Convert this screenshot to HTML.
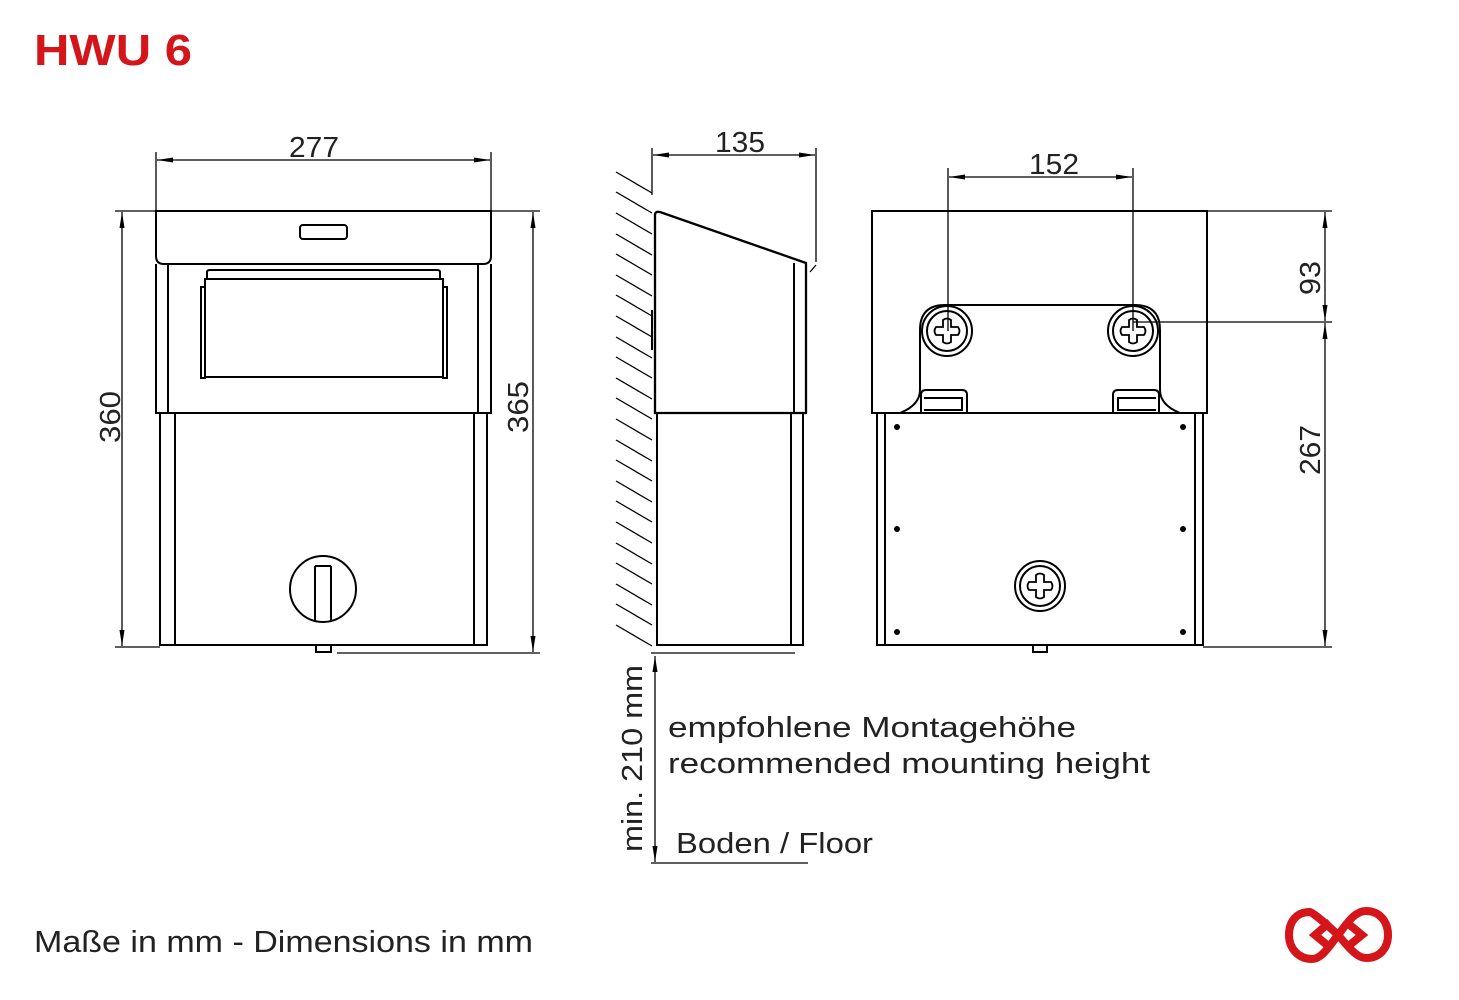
<!DOCTYPE html>
<html><head><style>
body{margin:0;background:#fff;}
svg{display:block;}
text{font-family:"Liberation Sans",sans-serif;fill:#222;}
</style></head><body>
<svg width="1459" height="1000" viewBox="0 0 1459 1000" xmlns="http://www.w3.org/2000/svg">
<defs>
<marker id="a" markerWidth="16" markerHeight="6" refX="16" refY="3" orient="auto-start-reverse" markerUnits="userSpaceOnUse"><path d="M0,0.5 L16,3 L0,5.5 z" fill="#000"/></marker>
</defs>
<text x="34" y="65" textLength="158" lengthAdjust="spacingAndGlyphs" style="font-size:44px;font-weight:bold;fill:#d4161b">HWU 6</text>

<g stroke="#000" fill="none" stroke-width="1.3">
<line x1="156" y1="152" x2="156" y2="211"/><line x1="491" y1="152" x2="491" y2="211"/>
<line x1="157" y1="160" x2="490" y2="160" marker-end="url(#a)" marker-start="url(#a)"/>
<line x1="115" y1="211" x2="156" y2="211"/><line x1="115" y1="647" x2="160" y2="647"/>
<line x1="122" y1="212" x2="122" y2="646" marker-end="url(#a)" marker-start="url(#a)"/>
<line x1="491" y1="211" x2="540" y2="211"/><line x1="337" y1="653" x2="540" y2="653"/>
<line x1="533" y1="212" x2="533" y2="652" marker-end="url(#a)" marker-start="url(#a)"/>
</g>
<g stroke="#000" fill="none" stroke-width="2">
<path d="M156,211 H491 V256 Q491,264 483,264 H164 Q156,264 156,256 Z"/>
<path d="M156,264 V413 H491 V264"/>
<line x1="168" y1="264" x2="168" y2="413"/><line x1="478" y1="264" x2="478" y2="413"/>
<rect x="300" y="225" width="47" height="14" rx="3"/>
<path d="M207,279 V272 Q207,270 210,270 H437 Q440,270 440,272 V279 Z"/>
<rect x="205" y="279" width="238" height="98"/>
<rect x="201" y="287" width="4" height="91"/><rect x="443" y="287" width="4" height="91"/>
<path d="M160,413 V645 H487 V413"/>
<line x1="175" y1="413" x2="175" y2="645"/><line x1="474" y1="413" x2="474" y2="645"/>
<circle cx="323" cy="589" r="33"/>
<path d="M315,566 V622 M331,566 V622 M315,566 H331"/>
<rect x="316" y="645" width="15" height="7"/>
</g>

<g stroke="#000" fill="none" stroke-width="1.3">
<line x1="652" y1="148" x2="652" y2="195"/><line x1="816" y1="148" x2="816" y2="262"/>
<line x1="810" y1="272" x2="816" y2="265"/>
<line x1="653" y1="155" x2="815" y2="155" marker-end="url(#a)" marker-start="url(#a)"/>
</g>
<g stroke="#000" stroke-width="1.3">
<line x1="616" y1="172" x2="652" y2="193"/><line x1="616" y1="192" x2="652" y2="213"/><line x1="616" y1="213" x2="652" y2="234"/><line x1="616" y1="234" x2="652" y2="255"/><line x1="616" y1="254" x2="652" y2="275"/><line x1="616" y1="275" x2="652" y2="296"/><line x1="616" y1="295" x2="652" y2="316"/><line x1="616" y1="316" x2="652" y2="337"/><line x1="616" y1="337" x2="652" y2="358"/><line x1="616" y1="357" x2="652" y2="378"/><line x1="616" y1="378" x2="652" y2="399"/><line x1="616" y1="398" x2="652" y2="419"/><line x1="616" y1="419" x2="652" y2="440"/><line x1="616" y1="440" x2="652" y2="461"/><line x1="616" y1="460" x2="652" y2="481"/><line x1="616" y1="481" x2="652" y2="502"/><line x1="616" y1="501" x2="652" y2="522"/><line x1="616" y1="522" x2="652" y2="543"/><line x1="616" y1="543" x2="652" y2="564"/><line x1="616" y1="563" x2="652" y2="584"/><line x1="616" y1="584" x2="652" y2="605"/><line x1="616" y1="604" x2="652" y2="625"/><line x1="616" y1="625" x2="652" y2="646"/>
</g>
<g stroke="#000" fill="none" stroke-width="2">
<path d="M655,413 V215 Q655,211 660,212 L806,263 V413 Z" stroke-width="2.3"/>
<line x1="794" y1="263" x2="794" y2="413"/>
<path d="M657,413 V645 H803 V413"/>
<line x1="791" y1="413" x2="791" y2="645"/>
<line x1="652" y1="310" x2="652" y2="350"/>
</g>

<g stroke="#000" fill="none" stroke-width="1.3">
<line x1="948" y1="168" x2="948" y2="331"/><line x1="1133" y1="168" x2="1133" y2="331"/>
<line x1="949" y1="177" x2="1132" y2="177" marker-end="url(#a)" marker-start="url(#a)"/>
<line x1="1207" y1="211" x2="1332" y2="211"/><line x1="1133" y1="322" x2="1332" y2="322"/><line x1="1203" y1="647" x2="1332" y2="647"/>
<line x1="1325" y1="212" x2="1325" y2="321" marker-end="url(#a)" marker-start="url(#a)"/>
<line x1="1325" y1="323" x2="1325" y2="646" marker-end="url(#a)" marker-start="url(#a)"/>
</g>
<g stroke="#000" fill="none" stroke-width="2">
<rect x="872" y="211" width="335" height="202"/>
<path d="M877,413 V645 H1203 V413"/>
<line x1="885" y1="413" x2="885" y2="645"/><line x1="1195" y1="413" x2="1195" y2="645"/>
<path d="M900,413 Q920,405 920,390 V330 Q920,305 945,305 H1135 Q1160,305 1160,330 V390 Q1160,405 1180,413"/>
<circle cx="947" cy="331" r="25"/><circle cx="947" cy="331" r="20"/>
<circle cx="1133" cy="331" r="25"/><circle cx="1133" cy="331" r="20"/>
<circle cx="1040" cy="586" r="25"/><circle cx="1040" cy="586" r="20"/>
<path d="M921,412 V395 Q921,390 926,390 H962 Q967,390 967,395 V412 M924,398 H962 V410 H924"/>
<path d="M1159,412 V395 Q1159,390 1154,390 H1118 Q1113,390 1113,395 V412 M1156,398 H1118 V410 H1156"/>
<rect x="1033" y="645" width="14" height="7"/>
</g>
<g stroke="#000" fill="none" stroke-width="1.8">
<path id="cr" d="M-4,-11 Q0,-14 4,-11 V-4 H11 Q14,0 11,4 H4 V11 Q0,14 -4,11 V4 H-11 Q-14,0 -11,-4 H-4 Z" transform="translate(947,331)"/>
<use href="#cr" transform="translate(186,0)"/>
<use href="#cr" transform="translate(93,255)"/>
</g>
<g fill="#000">
<circle cx="897" cy="427" r="3"/><circle cx="1183" cy="427" r="3"/><circle cx="897" cy="529" r="3"/><circle cx="1183" cy="529" r="3"/><circle cx="897" cy="632" r="3"/><circle cx="1183" cy="632" r="3"/>
</g>

<g stroke="#000" fill="none" stroke-width="1.3">
<line x1="651" y1="653" x2="795" y2="653"/>
<line x1="655" y1="656" x2="655" y2="862" marker-end="url(#a)" marker-start="url(#a)"/>
<line x1="651" y1="863" x2="808" y2="863"/>
</g>

<g style="font-size:29px">
<text x="289" y="157" textLength="50" lengthAdjust="spacingAndGlyphs">277</text>
<text x="715" y="152" textLength="50" lengthAdjust="spacingAndGlyphs">135</text>
<text x="1029" y="174" textLength="50" lengthAdjust="spacingAndGlyphs">152</text>
<text transform="translate(120,443) rotate(-90)" textLength="52" lengthAdjust="spacingAndGlyphs">360</text>
<text transform="translate(528,433) rotate(-90)" textLength="52" lengthAdjust="spacingAndGlyphs">365</text>
<text transform="translate(1320,295) rotate(-90)" textLength="34" lengthAdjust="spacingAndGlyphs">93</text>
<text transform="translate(1320,475) rotate(-90)" textLength="50" lengthAdjust="spacingAndGlyphs">267</text>
<text transform="translate(642,852) rotate(-90)" textLength="187" lengthAdjust="spacingAndGlyphs">min. 210 mm</text>
<text x="668" y="737" textLength="408" lengthAdjust="spacingAndGlyphs">empfohlene Montagehöhe</text>
<text x="668" y="773" textLength="482" lengthAdjust="spacingAndGlyphs">recommended mounting height</text>
<text x="676" y="853" textLength="197" lengthAdjust="spacingAndGlyphs">Boden / Floor</text>
<text x="34" y="952" textLength="499" lengthAdjust="spacingAndGlyphs" style="font-size:31px">Maße in mm - Dimensions in mm</text>
</g>

<g stroke="#d4161b" stroke-width="8" fill="none" stroke-linejoin="miter">
<path d="M1338,935 C1320,918 1311,912 1310,912 C1296,912 1289,922 1289,935 C1289,948 1298,959 1312,959 C1322,959 1330,945 1338,935 C1346,925 1354,911 1366,911 C1380,911 1388,922 1388,935 C1388,948 1380,958 1366,958 C1356,958 1347,945 1338,935"/>
<path d="M1330,922 L1315,935 L1332,949 M1346,948 L1362,935 L1345,921"/>
</g>
</svg>
</body></html>
